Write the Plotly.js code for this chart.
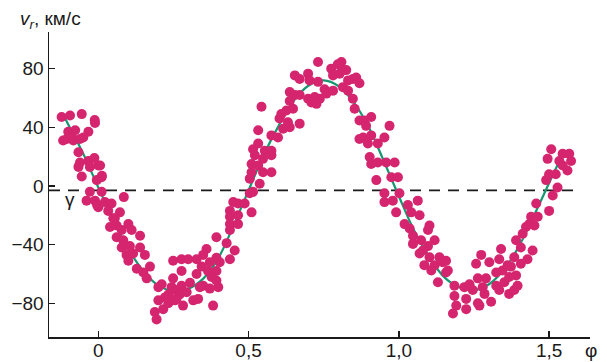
<!DOCTYPE html>
<html>
<head>
<meta charset="utf-8">
<script src="https://cdn.plot.ly/plotly-3.0.1.min.js"></script>
<style>html,body{margin:0;padding:0;background:#fff;}#chart{width:607px;height:362px;}</style>
</head>
<body>
<div id="chart"></div>
<script>
// Observed radial velocities, grouped by branch (phase, km/s)
const branchA_phase = [-0.122,-0.094,-0.055,-0.012,-0.100,-0.105,-0.077,-0.083,-0.061,-0.033,-0.050,-0.066,-0.061,-0.066,-0.033,-0.013,0.000,-0.028,-0.055,0.011,-0.005,-0.028,0.011,-0.039,-0.011,0.000,0.022,0.044,0.085,0.033,0.072,0.050,0.039,0.061,0.100,0.111,0.061,0.083,0.139,0.078,0.105,0.139,0.094,0.116,0.155,0.100,0.128,0.172,0.150,0.161,0.200,0.211,0.249,0.277,0.244,0.233,0.200,0.216,0.188,0.194,0.255,0.271,0.277,-0.117,-0.087,-0.011,0.012,0.006,-0.004,0.055,0.078];
const branchA_vel = [47,48,49,45,37,32,38,31,32,37,33,23,16,13,17,19,14,13,6.5,6,4,-4,-4,-10,-10,-14.5,-11,-12,-7.6,-17,-18,-22,-28,-27,-26,-30,-35,-37,-34,-42,-41,-42,-47,-46,-47,-51,-56.5,-55,-59,-63,-69,-67,-51,-50,-69,-74,-78,-84,-86,-91,-78,-74,-58,31,33,43,7,14,-13,-22,-30];

const branchB_phase = [0.504,0.465,0.487,0.438,0.438,0.465,0.510,0.438,0.465,0.438,0.393,0.427,0.454,0.360,0.349,0.393,0.404,0.438,0.371,0.344,0.365,0.393,0.377,0.393,0.349,0.371,0.399,0.382,0.327,0.299,0.249,0.305,0.327,0.338,0.277,0.255,0.271,0.294,0.222,0.260,0.316,0.332,0.233,0.282];
const branchB_vel = [-5,-12,-12,-17,-21,-20,-18,-26,-26,-30,-35,-39,-44,-43,-47,-49,-52,-50,-52,-55,-58,-58,-62,-64.5,-68,-70,-69,-81.6,-50,-50,-63,-66,-60,-69,-68,-71,-72.5,-72.5,-76,-77,-78,-77,-80,-81.6];

const branchC_phase = [0.449,0.515,0.537,0.504,0.510,0.510,0.532,0.548,0.576,0.521,0.548,0.576,0.515,0.532,0.554,0.576,0.576,0.532,0.598,0.615,0.637,0.631,0.670,0.603,0.609,0.626,0.648,0.543,0.637,0.637,0.654,0.670,0.654,0.670,0.698,0.703,0.731,0.698,0.709,0.726,0.720,0.737,0.753,0.759,0.731,0.775,0.797,0.809,0.781,0.803,0.825,0.781,0.814,0.847,0.858,0.847,0.853,0.869,0.869];
const branchC_vel = [-11,-4,1.5,5,9.4,15,14,9.4,9.4,21,18.5,21,25,29,24,24,34.5,38,33,39,40,43.5,42.5,46,49,51.5,52.7,54,58,64,62,62,75.4,73,76.6,72,71,59.5,57,56,60.6,59.5,66,63,84.5,80,83,84.5,75.4,76.6,79,65,67.4,73,74,59.5,52.7,44.7,32];

const branchD_phase = [0.814,0.869,0.831,0.831,0.908,0.886,0.891,0.969,0.881,0.908,0.897,0.930,0.952,0.903,0.908,0.930,0.958,0.986,0.925,0.975,0.997,0.952,0.952,0.980,1.002,0.991,1.030,1.063,1.041,1.069,1.019,1.036,1.102,1.097,1.047,1.074,1.047,1.119,1.097,1.069,1.102,1.135,1.085,1.119,1.157,1.108,1.157,1.130,1.185,1.218];
const branchD_vel = [79,70,72,65,47,44.7,41,41,33,34.5,29,29,33,19.7,15,16,16,16,4,6,6,-5,-11,-10,-5,-18,-13,-10,-18,-20,-26,-29,-27,-30,-34,-37,-39.5,-37,-41,-46,-48.6,-48.6,-54,-54,-51,-57.7,-59,-65.7,-68,-69];

const branchE_phase = [1.080,1.146,1.163,1.185,1.191,1.180,1.224,1.224,1.235,1.246,1.263,1.263,1.279,1.290,1.285,1.307,1.268,1.257,1.274,1.301,1.334,1.340,1.324,1.345,1.324,1.351,1.334,1.367,1.384,1.395,1.362,1.384,1.373,1.390,1.367,1.406,1.428,1.406,1.445,1.390,1.412,1.423,1.434,1.451,1.440,1.462,1.457,1.500,1.490,1.512,1.528,1.500,1.522,1.495,1.507,1.534,1.545,1.567,1.573,1.561,1.545];
const branchE_vel = [-44,-52,-57.7,-75,-81.6,-87,-77,-84,-67,-71,-63,-80,-69,-63,-73.6,-79,-81.6,-53,-47,-52,-50,-43,-59,-57.7,-68,-65.7,-71,-73.6,-71,-68,-54,-48.6,-55,-61,-62,-53,-50,-42,-44,-37,-32.6,-28,-26,-27,-21,-21,-12,-17,4,-6.5,-1,8,8,18.5,25,17,22,22,17,10.6,14];

// Fitted velocity curve
const curvePhase = [-0.11,-0.10,-0.05,0.00,0.05,0.10,0.15,0.20,0.25,0.30,0.35,0.40,0.45,0.50,0.55,0.60,0.65,0.70,0.75,0.80,0.85,0.90,0.95,1.00,1.05,1.10,1.15,1.20,1.25,1.30,1.35,1.40,1.45,1.50,1.55];
const curveVel = [46,42,22,-1,-23,-43,-58,-68,-71.5,-70,-63,-49,-27,-3,21,41,58,68.5,72,68,57,40,17,-7,-30,-48,-62,-69,-71,-67,-57,-41,-20,2,24];

// Systemic velocity gamma
const gammaVel = -3;
const gammaPhaseEnd = 1.59;

// Ticks
const xTickVals = [0, 0.5, 1, 1.5];
const xTickText = ["0", "0,5", "1,0", "1,5"];
const yTickVals = [-80, -40, 0, 40, 80];
const yTickText = ["\u221280", "\u221240", "0", "40", "80"];

const xRange = [-0.164, 1.636];
const yRange = [-103, 105];

const obsPhase = [].concat(branchA_phase, branchB_phase, branchC_phase, branchD_phase, branchE_phase);
const obsVel = [].concat(branchA_vel, branchB_vel, branchC_vel, branchD_vel, branchE_vel);

const ink = '#1a1a1a';
const font = 'Liberation Sans, Arial, sans-serif';

const traces = [
  {
    x: [xRange[0], gammaPhaseEnd], y: [gammaVel, gammaVel],
    mode: 'lines', line: {color: ink, width: 1.6, dash: '11px,8px'},
    hoverinfo: 'skip', showlegend: false
  },
  {
    x: curvePhase, y: curveVel, mode: 'lines',
    line: {color: '#17966f', width: 2.2, shape: 'spline', smoothing: 1},
    hoverinfo: 'skip', showlegend: false
  },
  {
    x: obsPhase, y: obsVel, mode: 'markers',
    marker: {size: 10, color: '#d5256f', line: {width: 0}},
    showlegend: false
  }
];

const axisCommon = {
  showline: true, linecolor: ink, linewidth: 1.5,
  ticks: 'inside', ticklen: 6, tickwidth: 1.5, tickcolor: ink,
  showgrid: false, zeroline: false,
  tickfont: {family: font, size: 19, color: ink},
  fixedrange: true
};

const layout = {
  width: 607, height: 362,
  margin: {l: 49, r: 17, t: 32, b: 25, pad: 0},
  paper_bgcolor: '#ffffff', plot_bgcolor: '#ffffff',
  xaxis: Object.assign({}, axisCommon, {range: xRange, tickvals: xTickVals, ticktext: xTickText, ticklabelstandoff: -4}),
  yaxis: Object.assign({}, axisCommon, {range: yRange, tickvals: yTickVals, ticktext: yTickText}),
  annotations: [
    {xref: 'paper', yref: 'paper', x: -0.057, y: 1.039, xanchor: 'left', yanchor: 'middle',
     text: '<i>v<sub>r</sub></i>, км/с', showarrow: false, font: {family: font, size: 19, color: ink}},
    {xref: 'paper', yref: 'paper', x: 1.002, y: -0.043, xanchor: 'center', yanchor: 'middle',
     text: 'φ', showarrow: false, font: {family: font, size: 19, color: ink}},
    {xref: 'paper', yref: 'paper', x: 0.039, y: 0.45, xanchor: 'center', yanchor: 'middle',
     text: 'γ', showarrow: false, font: {family: font, size: 19, color: ink}}
  ],
  showlegend: false
};

Plotly.newPlot('chart', traces, layout, {displayModeBar: false, staticPlot: true});
</script>
</body>
</html>
